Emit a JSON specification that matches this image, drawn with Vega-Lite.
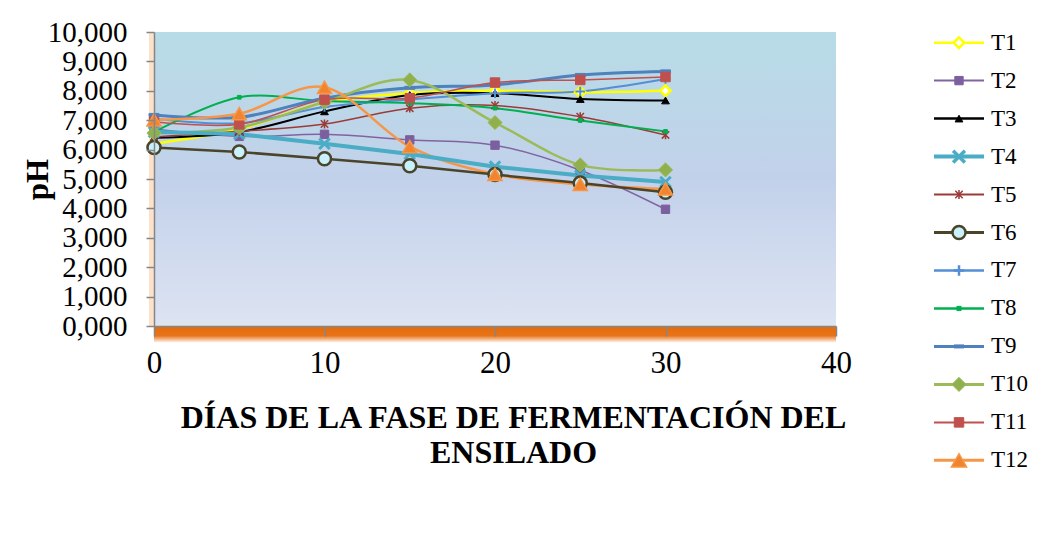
{
  "$schema": "https://vega.github.io/schema/vega-lite/v6.json",
  "background": "white",
  "autosize": {"type": "pad"},
  "padding": {"left": 22, "top": 18, "right": 0, "bottom": 0},
  "config": {
    "font": "Liberation Serif",
    "concat": {"spacing": 80}
  },
  "datasets": {
    "ph": [
      {"series": "T1", "day": 0, "pH": 6.2},
      {"series": "T1", "day": 5, "pH": 6.7},
      {"series": "T1", "day": 10, "pH": 7.6},
      {"series": "T1", "day": 15, "pH": 7.92},
      {"series": "T1", "day": 20, "pH": 8.0},
      {"series": "T1", "day": 25, "pH": 7.95},
      {"series": "T1", "day": 30, "pH": 8.0},
      {"series": "T2", "day": 0, "pH": 6.7},
      {"series": "T2", "day": 5, "pH": 6.45},
      {"series": "T2", "day": 10, "pH": 6.52},
      {"series": "T2", "day": 15, "pH": 6.33},
      {"series": "T2", "day": 20, "pH": 6.15},
      {"series": "T2", "day": 25, "pH": 5.3},
      {"series": "T2", "day": 30, "pH": 3.97},
      {"series": "T3", "day": 0, "pH": 6.4},
      {"series": "T3", "day": 5, "pH": 6.6},
      {"series": "T3", "day": 10, "pH": 7.3},
      {"series": "T3", "day": 15, "pH": 7.86},
      {"series": "T3", "day": 20, "pH": 7.92},
      {"series": "T3", "day": 25, "pH": 7.72},
      {"series": "T3", "day": 30, "pH": 7.67},
      {"series": "T4", "day": 0, "pH": 6.6},
      {"series": "T4", "day": 5, "pH": 6.53},
      {"series": "T4", "day": 10, "pH": 6.2},
      {"series": "T4", "day": 15, "pH": 5.85},
      {"series": "T4", "day": 20, "pH": 5.42},
      {"series": "T4", "day": 25, "pH": 5.12},
      {"series": "T4", "day": 30, "pH": 4.9},
      {"series": "T5", "day": 0, "pH": 6.43},
      {"series": "T5", "day": 5, "pH": 6.62},
      {"series": "T5", "day": 10, "pH": 6.87},
      {"series": "T5", "day": 15, "pH": 7.41},
      {"series": "T5", "day": 20, "pH": 7.5},
      {"series": "T5", "day": 25, "pH": 7.12},
      {"series": "T5", "day": 30, "pH": 6.5},
      {"series": "T6", "day": 0, "pH": 6.07},
      {"series": "T6", "day": 5, "pH": 5.92},
      {"series": "T6", "day": 10, "pH": 5.69},
      {"series": "T6", "day": 15, "pH": 5.45},
      {"series": "T6", "day": 20, "pH": 5.15},
      {"series": "T6", "day": 25, "pH": 4.86},
      {"series": "T6", "day": 30, "pH": 4.55},
      {"series": "T7", "day": 0, "pH": 7.05},
      {"series": "T7", "day": 5, "pH": 6.9},
      {"series": "T7", "day": 10, "pH": 7.45},
      {"series": "T7", "day": 15, "pH": 7.7},
      {"series": "T7", "day": 20, "pH": 7.92},
      {"series": "T7", "day": 25, "pH": 7.98},
      {"series": "T7", "day": 30, "pH": 8.4},
      {"series": "T8", "day": 0, "pH": 6.6},
      {"series": "T8", "day": 5, "pH": 7.78},
      {"series": "T8", "day": 10, "pH": 7.65},
      {"series": "T8", "day": 15, "pH": 7.58},
      {"series": "T8", "day": 20, "pH": 7.41},
      {"series": "T8", "day": 25, "pH": 6.99},
      {"series": "T8", "day": 30, "pH": 6.62},
      {"series": "T9", "day": 0, "pH": 7.18},
      {"series": "T9", "day": 5, "pH": 7.1},
      {"series": "T9", "day": 10, "pH": 7.75},
      {"series": "T9", "day": 15, "pH": 8.1},
      {"series": "T9", "day": 20, "pH": 8.2},
      {"series": "T9", "day": 25, "pH": 8.54},
      {"series": "T9", "day": 30, "pH": 8.66},
      {"series": "T10", "day": 0, "pH": 6.56},
      {"series": "T10", "day": 5, "pH": 6.75},
      {"series": "T10", "day": 10, "pH": 7.62},
      {"series": "T10", "day": 15, "pH": 8.37},
      {"series": "T10", "day": 20, "pH": 6.92},
      {"series": "T10", "day": 25, "pH": 5.48},
      {"series": "T10", "day": 30, "pH": 5.31},
      {"series": "T11", "day": 0, "pH": 6.95},
      {"series": "T11", "day": 5, "pH": 6.86},
      {"series": "T11", "day": 10, "pH": 7.7},
      {"series": "T11", "day": 15, "pH": 7.75},
      {"series": "T11", "day": 20, "pH": 8.28},
      {"series": "T11", "day": 25, "pH": 8.37},
      {"series": "T11", "day": 30, "pH": 8.47},
      {"series": "T12", "day": 0, "pH": 7.01},
      {"series": "T12", "day": 5, "pH": 7.22},
      {"series": "T12", "day": 10, "pH": 8.12},
      {"series": "T12", "day": 15, "pH": 6.1},
      {"series": "T12", "day": 20, "pH": 5.16},
      {"series": "T12", "day": 25, "pH": 4.82},
      {"series": "T12", "day": 30, "pH": 4.66}
    ]
  },
  "resolve": {
    "scale": {"color": "independent", "shape": "independent", "fill": "independent", "stroke": "independent", "size": "independent", "strokeWidth": "independent"}
  },
  "hconcat": [
    {
      "width": 682,
      "height": 294,
      "view": {
        "stroke": null,
        "fill": {
          "gradient": "linear",
          "x1": 0, "y1": 0, "x2": 0, "y2": 1,
          "stops": [
            {"offset": 0, "color": "#b7dce6"},
            {"offset": 0.5, "color": "#c2d1ea"},
            {"offset": 1, "color": "#dde4f2"}
          ]
        }
      },
      "data": {"name": "ph"},
      "resolve": {"scale": {"strokeWidth": "independent", "size": "independent"}},
      "layer": [
        {
          "data": {"values": [{}]},
          "mark": {"type": "rect", "fill": "#fbcfa8", "opacity": 0.6},
          "encoding": {
            "x": {
              "datum": -0.3,
              "type": "quantitative",
              "scale": {"domain": [0, 40]},
              "axis": {
                "values": [0, 10, 20, 30, 40],
                "grid": false,
                "zindex": 1,
                "domainColor": "#868686",
                "domainWidth": 1.5,
                "tickColor": "#868686",
                "tickWidth": 1.5,
                "tickSize": 10,
                "labelFontSize": 31,
                "labelColor": "#000000",
                "labelPadding": 12,
                "labelFlush": false,
                "title": ["DÍAS DE LA FASE DE FERMENTACIÓN DEL", "ENSILADO"],
                "titleFontSize": 32,
                "titleFontWeight": "bold",
                "titleColor": "#000000",
                "titleAlign": "center",
                "titleBaseline": "alphabetic",
                "titleLineHeight": 35,
                "titleX": 359,
                "titleY": 101
              }
            },
            "x2": {"datum": 0},
            "y": {
              "datum": 0,
              "type": "quantitative",
              "scale": {"domain": [0, 10]},
              "axis": {
                "values": [0, 1, 2, 3, 4, 5, 6, 7, 8, 9, 10],
                "tickCount": 11,
                "labelExpr": "replace(format(datum.value, '.3f'), '.', ',')",
                "grid": false,
                "zindex": 1,
                "domainColor": "#868686",
                "domainWidth": 1.5,
                "tickColor": "#868686",
                "tickWidth": 1.5,
                "tickSize": 8,
                "labelFontSize": 29,
                "labelColor": "#000000",
                "labelPadding": 19,
                "labelOverlap": false,
                "labelBound": false,
                "labelFlush": false,
                "title": "pH",
                "titleFontSize": 31,
                "titleFontWeight": "bold",
                "titleColor": "#000000",
                "titleAngle": -90,
                "titleAlign": "center",
                "titleBaseline": "middle",
                "titleX": -116,
                "titleY": 147
              }
            },
            "y2": {"datum": 10}
          }
        },
        {
          "data": {"values": [{}]},
          "mark": {
            "type": "rect",
            "fill": {
              "gradient": "linear",
              "x1": 0, "y1": 0, "x2": 0, "y2": 1,
              "stops": [
                {"offset": 0, "color": "#e36c09"},
                {"offset": 0.6, "color": "#e8731a"},
                {"offset": 1, "color": "#fef0e4"}
              ]
            }
          },
          "encoding": {
            "x": {"datum": 0, "type": "quantitative"},
            "x2": {"datum": 40},
            "y": {"datum": 0, "type": "quantitative"},
            "y2": {"datum": -0.55}
          }
        },
        {
          "transform": [{"filter": "datum.series != 'T4' && datum.series != 'T6'"}],
          "mark": {"type": "line", "interpolate": "cardinal"},
          "encoding": {
            "x": {"field": "day", "type": "quantitative"},
            "y": {"field": "pH", "type": "quantitative"},
            "color": {
              "field": "series",
              "type": "nominal",
              "legend": null,
              "scale": {
                "domain": ["T1", "T2", "T3", "T4", "T5", "T6", "T7", "T8", "T9", "T10", "T11", "T12"],
                "range": ["#ffff00", "#8064a2", "#000000", "#4bacc6", "#9b3b38", "#4a452a", "#558ed5", "#00b050", "#4f81bd", "#9bbb59", "#c0504d", "#f79646"]
              }
            },
            "strokeWidth": {
              "field": "series",
              "type": "nominal",
              "legend": null,
              "scale": {
                "type": "ordinal",
                "domain": ["T1", "T2", "T3", "T4", "T5", "T6", "T7", "T8", "T9", "T10", "T11", "T12"],
                "range": [2.5, 1.5, 2, 4, 1.5, 2.5, 2, 2, 3, 2.5, 1.5, 2.5]
              }
            }
          }
        },
        {
          "transform": [{"filter": "datum.series == 'T4' || datum.series == 'T6'"}],
          "mark": {"type": "line", "interpolate": "linear"},
          "encoding": {
            "x": {"field": "day", "type": "quantitative"},
            "y": {"field": "pH", "type": "quantitative"},
            "color": {"field": "series", "type": "nominal", "legend": null},
            "strokeWidth": {
              "field": "series",
              "type": "nominal",
              "legend": null,
              "scale": {
                "type": "ordinal",
                "domain": ["T1", "T2", "T3", "T4", "T5", "T6", "T7", "T8", "T9", "T10", "T11", "T12"],
                "range": [2.5, 1.5, 2, 4, 1.5, 2.5, 2, 2, 3, 2.5, 1.5, 2.5]
              }
            }
          }
        },
        {
          "mark": {"type": "point", "opacity": 1, "filled": false},
          "encoding": {
            "x": {"field": "day", "type": "quantitative"},
            "y": {"field": "pH", "type": "quantitative"},
            "shape": {
              "field": "series",
              "type": "nominal",
              "legend": null,
              "scale": {
                "domain": ["T1", "T2", "T3", "T4", "T5", "T6", "T7", "T8", "T9", "T10", "T11", "T12"],
                "range": ["diamond", "square", "triangle-up", "M-1,-1L1,1M-1,1L1,-1", "M-1,-1L1,1M-1,1L1,-1M0,-1.2V1.2", "circle", "M-1,0H1M0,-1V1", "square", "M-1,-0.3H1V0.3H-1Z", "diamond", "square", "triangle-up"]
              }
            },
            "fill": {
              "field": "series",
              "type": "nominal",
              "legend": null,
              "scale": {
                "domain": ["T1", "T2", "T3", "T4", "T5", "T6", "T7", "T8", "T9", "T10", "T11", "T12"],
                "range": ["#ffffff", "#7c5f9f", "#000000", "transparent", "transparent", "#c9f1fb", "transparent", "#00b050", "#4f81bd", "#8fb04d", "#c0504d", "#f0842f"]
              }
            },
            "stroke": {
              "field": "series",
              "type": "nominal",
              "legend": null,
              "scale": {
                "domain": ["T1", "T2", "T3", "T4", "T5", "T6", "T7", "T8", "T9", "T10", "T11", "T12"],
                "range": ["#ffff00", "#7c5f9f", "#000000", "#4bacc6", "#9b3b38", "#4a452a", "#558ed5", "#00b050", "#4f81bd", "#9bbb59", "#c0504d", "#f79646"]
              }
            },
            "size": {
              "field": "series",
              "type": "nominal",
              "legend": null,
              "scale": {
                "type": "ordinal",
                "domain": ["T1", "T2", "T3", "T4", "T5", "T6", "T7", "T8", "T9", "T10", "T11", "T12"],
                "range": [110, 70, 60, 110, 55, 170, 90, 14, 100, 200, 90, 200]
              }
            },
            "strokeWidth": {
              "field": "series",
              "type": "nominal",
              "legend": null,
              "scale": {
                "type": "ordinal",
                "domain": ["T1", "T2", "T3", "T4", "T5", "T6", "T7", "T8", "T9", "T10", "T11", "T12"],
                "range": [2.5, 1, 1, 3, 1.5, 2.5, 2, 1, 1, 1, 1, 1.5]
              }
            }
          }
        }
      ]
    },
    {
      "width": 110,
      "height": 439,
      "view": {"stroke": null},
      "data": {"name": "ph"},
      "transform": [{"filter": "datum.day == 0"}],
      "resolve": {"scale": {"strokeWidth": "independent", "size": "independent"}},
      "layer": [
        {
          "mark": {"type": "rule"},
          "encoding": {
            "y": {
              "field": "series",
              "type": "nominal",
              "sort": ["T1", "T2", "T3", "T4", "T5", "T6", "T7", "T8", "T9", "T10", "T11", "T12"],
              "scale": {"type": "point", "padding": 0.28},
              "axis": null
            },
            "x": {"datum": 0, "type": "quantitative", "scale": {"domain": [0, 2.2]}, "axis": null},
            "x2": {"datum": 1},
            "color": {
              "field": "series",
              "type": "nominal",
              "legend": null,
              "scale": {
                "domain": ["T1", "T2", "T3", "T4", "T5", "T6", "T7", "T8", "T9", "T10", "T11", "T12"],
                "range": ["#ffff00", "#8064a2", "#000000", "#4bacc6", "#9b3b38", "#4a452a", "#558ed5", "#00b050", "#4f81bd", "#9bbb59", "#c0504d", "#f79646"]
              }
            },
            "strokeWidth": {
              "field": "series",
              "type": "nominal",
              "legend": null,
              "scale": {
                "type": "ordinal",
                "domain": ["T1", "T2", "T3", "T4", "T5", "T6", "T7", "T8", "T9", "T10", "T11", "T12"],
                "range": [2.5, 2, 2.5, 4, 2, 3, 2.5, 2.5, 3, 3, 2, 3]
              }
            }
          }
        },
        {
          "mark": {"type": "point", "opacity": 1, "filled": false},
          "encoding": {
            "y": {
              "field": "series",
              "type": "nominal",
              "sort": ["T1", "T2", "T3", "T4", "T5", "T6", "T7", "T8", "T9", "T10", "T11", "T12"]
            },
            "x": {"datum": 0.5, "type": "quantitative"},
            "shape": {
              "field": "series",
              "type": "nominal",
              "legend": null,
              "scale": {
                "domain": ["T1", "T2", "T3", "T4", "T5", "T6", "T7", "T8", "T9", "T10", "T11", "T12"],
                "range": ["diamond", "square", "triangle-up", "M-1,-1L1,1M-1,1L1,-1", "M-1,-1L1,1M-1,1L1,-1M0,-1.2V1.2", "circle", "M-1,0H1M0,-1V1", "square", "M-1,-0.3H1V0.3H-1Z", "diamond", "square", "triangle-up"]
              }
            },
            "fill": {
              "field": "series",
              "type": "nominal",
              "legend": null,
              "scale": {
                "domain": ["T1", "T2", "T3", "T4", "T5", "T6", "T7", "T8", "T9", "T10", "T11", "T12"],
                "range": ["#ffffff", "#7c5f9f", "#000000", "transparent", "transparent", "#c9f1fb", "transparent", "#00b050", "#4f81bd", "#8fb04d", "#c0504d", "#f0842f"]
              }
            },
            "stroke": {
              "field": "series",
              "type": "nominal",
              "legend": null,
              "scale": {
                "domain": ["T1", "T2", "T3", "T4", "T5", "T6", "T7", "T8", "T9", "T10", "T11", "T12"],
                "range": ["#ffff00", "#7c5f9f", "#000000", "#4bacc6", "#9b3b38", "#4a452a", "#558ed5", "#00b050", "#4f81bd", "#9bbb59", "#c0504d", "#f79646"]
              }
            },
            "size": {
              "field": "series",
              "type": "nominal",
              "legend": null,
              "scale": {
                "type": "ordinal",
                "domain": ["T1", "T2", "T3", "T4", "T5", "T6", "T7", "T8", "T9", "T10", "T11", "T12"],
                "range": [110, 70, 60, 140, 55, 170, 110, 18, 100, 200, 90, 230]
              }
            },
            "strokeWidth": {
              "field": "series",
              "type": "nominal",
              "legend": null,
              "scale": {
                "type": "ordinal",
                "domain": ["T1", "T2", "T3", "T4", "T5", "T6", "T7", "T8", "T9", "T10", "T11", "T12"],
                "range": [2.5, 1, 1, 3.5, 1.5, 2.5, 2.5, 1, 1, 1, 1, 1.5]
              }
            }
          }
        },
        {
          "mark": {"type": "text", "align": "left", "baseline": "middle", "font": "Liberation Serif", "fontSize": 23, "dx": 7, "color": "#000000"},
          "encoding": {
            "y": {
              "field": "series",
              "type": "nominal",
              "sort": ["T1", "T2", "T3", "T4", "T5", "T6", "T7", "T8", "T9", "T10", "T11", "T12"]
            },
            "x": {"datum": 1, "type": "quantitative"},
            "text": {"field": "series", "type": "nominal"}
          }
        }
      ]
    }
  ]
}
